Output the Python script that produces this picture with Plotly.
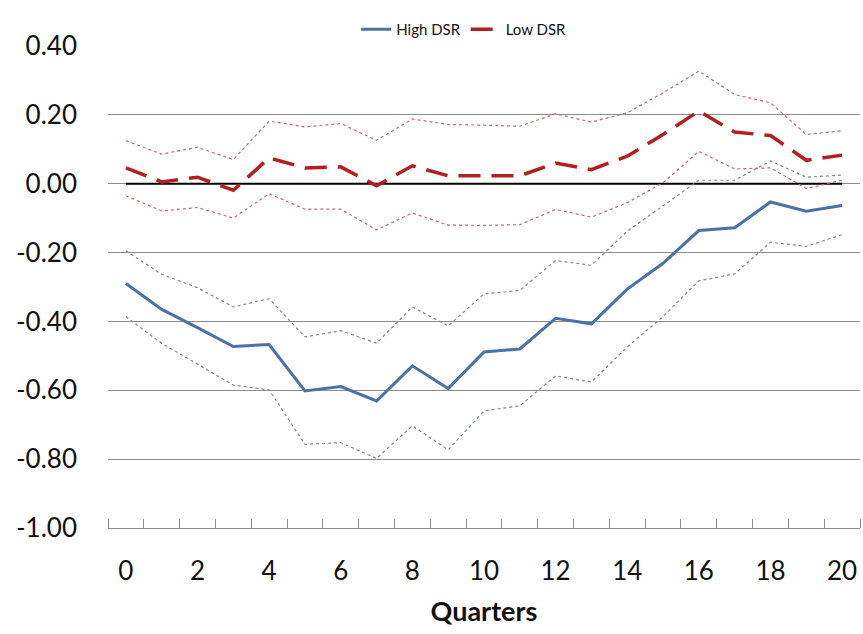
import plotly.graph_objects as go

# Impulse responses by quarter for high- and low-DSR households,
# with upper/lower confidence bands.
quarters = list(range(21))

high_dsr = [-0.29, -0.365, -0.418, -0.473, -0.467, -0.602, -0.589, -0.631, -0.529, -0.595,
            -0.489, -0.480, -0.391, -0.407, -0.306, -0.231, -0.136, -0.128, -0.053, -0.080, -0.063]
high_upper = [-0.195, -0.263, -0.302, -0.358, -0.334, -0.445, -0.427, -0.463, -0.358, -0.413,
              -0.320, -0.310, -0.223, -0.237, -0.138, -0.065, 0.010, 0.010, 0.066, 0.019, 0.025]
high_lower = [-0.386, -0.464, -0.524, -0.585, -0.599, -0.757, -0.752, -0.798, -0.703, -0.773,
              -0.660, -0.645, -0.558, -0.576, -0.474, -0.386, -0.282, -0.262, -0.170, -0.182, -0.148]

low_dsr = [0.046, 0.005, 0.019, -0.019, 0.075, 0.046, 0.049, -0.006, 0.052, 0.023,
           0.023, 0.023, 0.060, 0.041, 0.080, 0.143, 0.211, 0.150, 0.140, 0.068, 0.083]
low_upper = [0.125, 0.086, 0.106, 0.070, 0.182, 0.165, 0.175, 0.126, 0.188, 0.172,
             0.170, 0.167, 0.203, 0.179, 0.206, 0.264, 0.327, 0.259, 0.235, 0.143, 0.154]
low_lower = [-0.035, -0.079, -0.069, -0.100, -0.029, -0.074, -0.074, -0.134, -0.085, -0.120,
             -0.121, -0.119, -0.075, -0.097, -0.055, 0.003, 0.094, 0.043, 0.046, -0.014, 0.010]

zero_line = [0.0] * len(quarters)

y_ticks = [0.4, 0.2, 0.0, -0.2, -0.4, -0.6, -0.8, -1.0]
y_labels = ["0.40", "0.20", "0.00", "-0.20", "-0.40", "-0.60", "-0.80", "-1.00"]
x_ticks = list(range(0, 21, 2))

BLUE = "#4a72a6"
RED = "#b41e1e"
BLUE_BAND = "#7d8896"
RED_BAND = "#c06a6a"
FONT = "Lato"

fig = go.Figure()

fig.add_trace(go.Scatter(x=quarters, y=zero_line, mode="lines",
                         line=dict(color="black", width=2), showlegend=False,
                         hoverinfo="skip"))

for band in (high_upper, high_lower):
    fig.add_trace(go.Scatter(x=quarters, y=band, mode="lines",
                             line=dict(color=BLUE_BAND, width=1.2, dash="3px,3px"),
                             showlegend=False))
for band in (low_upper, low_lower):
    fig.add_trace(go.Scatter(x=quarters, y=band, mode="lines",
                             line=dict(color=RED_BAND, width=1.2, dash="3px,3px"),
                             showlegend=False))

fig.add_trace(go.Scatter(x=quarters, y=high_dsr, mode="lines", name="High DSR",
                         line=dict(color=BLUE, width=3)))
fig.add_trace(go.Scatter(x=quarters, y=low_dsr, mode="lines", name="Low DSR",
                         line=dict(color=RED, width=3.5, dash="22px,11px")))

fig.update_layout(
    width=863, height=634,
    margin=dict(l=108, r=3, t=46, b=106),
    paper_bgcolor="white", plot_bgcolor="white",
    font=dict(family=FONT, color="#111111"),
    legend=dict(orientation="h", x=0.473, xanchor="center", y=1.0, yanchor="bottom",
                font=dict(size=15, family=FONT), itemwidth=30,
                bgcolor="rgba(0,0,0,0)", traceorder="normal"),
    xaxis=dict(range=[-0.5, 20.5], tickvals=x_ticks, ticks="", showgrid=False,
               zeroline=False, showline=True, linecolor="#8c8c8c", linewidth=1.3,
               tickfont=dict(size=26, family=FONT), ticklabelstandoff=20,
               minor=dict(ticks="inside", tick0=-0.5, dtick=1, ticklen=9,
                          tickcolor="#8c8c8c", tickwidth=1, showgrid=False),
               title=dict(text="<b>Quarters</b>", font=dict(size=27, family=FONT),
                          standoff=16)),
    yaxis=dict(range=[-1.0, 0.4], tickvals=y_ticks, ticktext=y_labels,
               showgrid=True, gridcolor="#8c8c8c", gridwidth=1.2,
               zeroline=False, showline=False, ticks="",
               tickfont=dict(size=26, family=FONT), ticklabelstandoff=30),
)

fig.write_html("out.html")
